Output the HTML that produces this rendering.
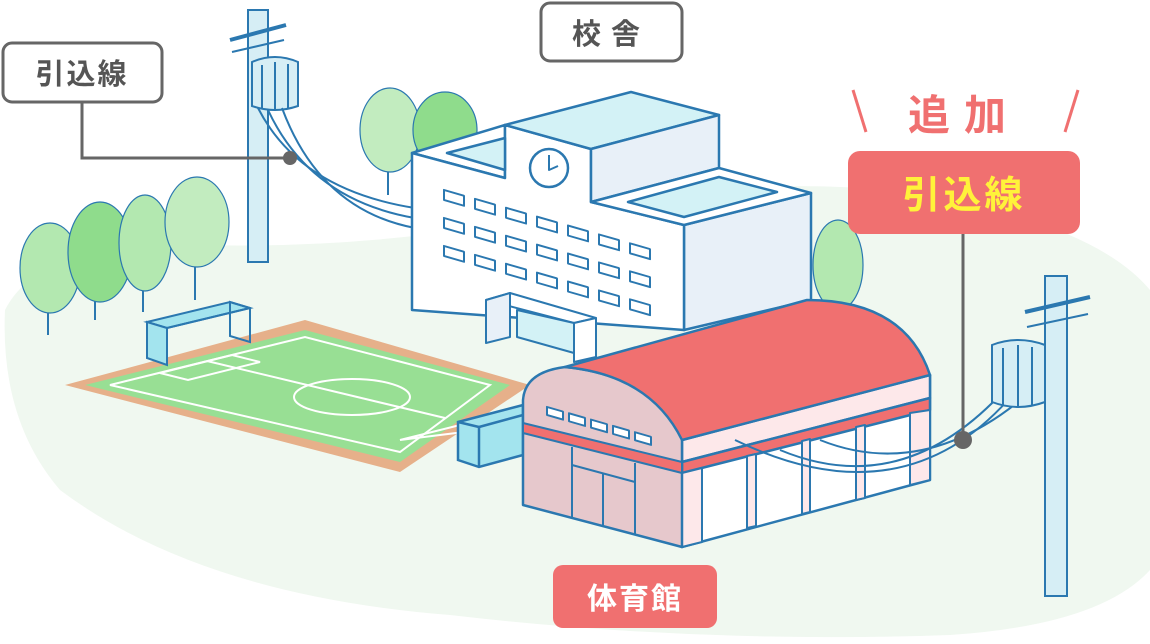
<!DOCTYPE html>
<html><head><meta charset="utf-8"><style>
html,body{margin:0;padding:0;background:#fff;}
svg{display:block;}
text{font-family:"Liberation Sans","Noto Sans CJK JP",sans-serif;font-weight:bold;}
</style></head><body>
<svg width="1150" height="644" viewBox="0 0 1150 644" xmlns="http://www.w3.org/2000/svg">
<!-- ground -->
<path d="M5,310 Q40,240 200,245 Q400,250 600,205 Q800,170 950,200 Q1100,230 1150,290 L1150,570 Q1100,625 950,635 Q700,644 450,615 Q200,595 60,490 Q0,420 5,310 Z" fill="#f0f8f0"/>
<!-- trees -->
<g stroke="#2b78b0" stroke-width="1.2">
<line x1="48" y1="300" x2="48" y2="335" stroke-width="2"/><line x1="95" y1="290" x2="95" y2="320" stroke-width="2"/><line x1="143" y1="280" x2="143" y2="312" stroke-width="2"/><line x1="195" y1="260" x2="195" y2="300" stroke-width="2"/>
<ellipse cx="50" cy="268" rx="30" ry="45" fill="#b3e8b0"/>
<ellipse cx="100" cy="252" rx="32" ry="50" fill="#8fdc8c"/>
<ellipse cx="145" cy="243" rx="26" ry="48" fill="#b3e8b0"/>
<ellipse cx="197" cy="222" rx="32" ry="45" fill="#c2ecbf"/>
<line x1="388" y1="160" x2="388" y2="195" stroke-width="2"/>
<ellipse cx="390" cy="130" rx="30" ry="42" fill="#c2ecbf"/>
<ellipse cx="445" cy="130" rx="32" ry="38" fill="#8fdc8c"/>
<ellipse cx="838" cy="265" rx="25" ry="45" fill="#b3e8b0"/>
</g>
<!-- soccer field -->
<polygon points="65,385 305,320 530,385 400,472" fill="#e6b08a"/>
<polygon points="85,385 305,330 510,385 400,462" fill="#98df94"/>
<g stroke="#fff" stroke-width="2" fill="none">
<polygon points="110,385 305,337 490,385 400,452"/>
<line x1="207" y1="361" x2="445" y2="418"/>
<ellipse cx="352" cy="397" rx="58" ry="18"/>
<polygon points="160,373 232,355 260,362 188,380"/>
<polygon points="400,440 460,425 480,430"/>
</g>
<!-- goal left -->
<g stroke="#2b78b0" stroke-width="2" fill="#a3e4ee">
<polygon points="147,322 230,302 250,308 167,328"/>
<polygon points="147,322 167,328 167,365 147,358"/>
<polygon points="230,302 250,308 250,342 230,336" fill="none"/>
<line x1="167" y1="328" x2="250" y2="308"/>
</g>
<!-- left pole -->
<g stroke="#2b78b0" stroke-width="2">
<rect x="248" y="10" width="20" height="252" fill="#d6eef5"/>
<line x1="230" y1="40" x2="286" y2="25" stroke-width="4"/>
<line x1="232" y1="52" x2="284" y2="40" stroke-width="2"/>
<path d="M252,62 Q275,52 298,62 L298,106 Q275,114 252,106 Z" fill="#d6eef5"/>
<line x1="262" y1="65" x2="262" y2="108"/><line x1="275" y1="62" x2="275" y2="110"/><line x1="288" y1="64" x2="288" y2="108"/>
<g fill="none" stroke-width="2">
<path d="M258,108 Q300,190 415,208"/>
<path d="M268,110 Q310,200 415,218"/>
<path d="M282,108 Q320,210 415,228"/>
</g>
</g>
<!-- school -->
<g stroke="#2b78b0" stroke-width="2.5" stroke-linejoin="round">
<polygon points="412,153 505,125 505,178" fill="#fff"/>
<polygon points="684,225 811,193 811,300 684,330" fill="#e8f0f8"/>
<polygon points="412,153 505,178 505,125 591,149 591,202 684,225 684,330 412,310" fill="#fff"/>
<polygon points="447,153 505,138 505,170" fill="#d3f2f6"/>
<polygon points="505,125 631,92 719,115 591,149" fill="#d3f2f6"/>
<polygon points="591,149 719,115 719,168 591,202" fill="#e8f0f8"/>
<polygon points="591,202 719,168 811,193 684,225" fill="#fff"/>
<polygon points="628,202 719,177 777,192 684,217" fill="#d3f2f6"/>
<circle cx="549" cy="168" r="19" fill="#fff"/>
<polyline points="549,155 549,170 558,166" fill="none" stroke-width="2"/>
<g fill="#fff" stroke-width="2">
<g transform="translate(444,190) skewY(16)">
<rect x="0" y="0" width="20" height="10"/><rect x="31" y="0" width="20" height="10"/><rect x="62" y="0" width="20" height="10"/><rect x="93" y="0" width="20" height="10"/><rect x="124" y="0" width="20" height="10"/><rect x="155" y="0" width="20" height="10"/><rect x="186" y="0" width="20" height="10"/>
<rect x="0" y="28" width="20" height="10"/><rect x="31" y="28" width="20" height="10"/><rect x="62" y="28" width="20" height="10"/><rect x="93" y="28" width="20" height="10"/><rect x="124" y="28" width="20" height="10"/><rect x="155" y="28" width="20" height="10"/><rect x="186" y="28" width="20" height="10"/>
<rect x="0" y="56" width="20" height="10"/><rect x="31" y="56" width="20" height="10"/><rect x="62" y="56" width="20" height="10"/><rect x="93" y="56" width="20" height="10"/><rect x="124" y="56" width="20" height="10"/><rect x="155" y="56" width="20" height="10"/><rect x="186" y="56" width="20" height="10"/>
</g></g>
<polygon points="486,300 510,293 596,318 574,323" fill="#fff" stroke-width="2"/>
<polygon points="486,300 510,293 510,337 486,343" fill="#e8f0f8" stroke-width="2"/>
<polygon points="517,310 574,323 574,353 517,337" fill="#d3f2f6" stroke-width="2"/>
<polygon points="574,323 596,318 596,357 574,362" fill="#fff" stroke-width="2"/>
</g>
<!-- blue box -->
<g stroke="#2b78b0" stroke-width="2.5" fill="#a3e4ee">
<polygon points="458,422 523,405 523,455 479,467 458,460"/>
<line x1="458" y1="422" x2="479" y2="427"/><line x1="479" y1="427" x2="523" y2="415"/><line x1="479" y1="427" x2="479" y2="467"/>
</g>
<!-- gym -->
<g stroke="#2b78b0" stroke-width="2.5" stroke-linejoin="round">
<polygon points="682,440 930,375 930,480 682,547" fill="#fff"/>
<polygon points="682,440 930,375 930,398 682,462" fill="#fde8ea"/>
<polygon points="682,462 930,398 930,410 682,473" fill="#f07070"/>
<g stroke-width="2" fill="#fde8ea">
<polygon points="682,473 702,468 702,542 682,547"/>
<polygon points="747,456 756,454 756,526 747,528"/>
<polygon points="802,441 810,439 810,512 802,514"/>
<polygon points="856,427 865,425 865,498 856,500"/>
<polygon points="910,413 930,410 930,480 910,485"/>
</g>
<path d="M523,505 L523,400 Q525,372 565,367 Q650,375 682,437 L682,547 Z" fill="#e6c8cc"/>
<path d="M523,423 L682,462 L682,473 L523,433 Z" fill="#f07070" stroke-width="2"/>
<path d="M565,367 L807,300 Q905,300 930,375 L682,440 Q650,375 565,367 Z" fill="#f07070"/>
<g fill="#fff" stroke-width="2">
<g transform="translate(547,407) skewY(16)">
<rect x="0" y="0" width="16" height="8"/><rect x="22" y="0" width="16" height="8"/><rect x="44" y="0" width="16" height="8"/><rect x="66" y="0" width="16" height="8"/><rect x="88" y="0" width="16" height="8"/>
</g></g>
<g fill="none" stroke-width="2">
<line x1="572" y1="447" x2="572" y2="517"/><line x1="635" y1="463" x2="635" y2="535"/>
<line x1="572" y1="465" x2="635" y2="482"/><line x1="603" y1="473" x2="603" y2="525"/>
</g>
</g>
<!-- right pole -->
<g stroke="#2b78b0" stroke-width="2">
<g fill="none">
<path d="M1000,395 Q900,500 780,450"/>
<path d="M1008,400 Q900,520 735,440"/>
<path d="M1018,402 Q920,480 820,440"/>
</g>
<rect x="1045" y="276" width="22" height="320" fill="#d6eef5"/>
<line x1="1025" y1="312" x2="1090" y2="297" stroke-width="4"/>
<line x1="1027" y1="327" x2="1088" y2="314"/>
<path d="M992,345 Q1018,335 1045,345 L1045,402 Q1018,412 992,402 Z" fill="#d6eef5"/>
<line x1="1003" y1="348" x2="1003" y2="405"/><line x1="1018" y1="345" x2="1018" y2="408"/><line x1="1032" y1="347" x2="1032" y2="406"/>
</g>
<!-- labels -->
<polyline points="82,103 82,158 290,158" fill="none" stroke="#666" stroke-width="3"/>
<circle cx="290" cy="158" r="7" fill="#666"/>
<rect x="3" y="43" width="159" height="59" rx="9" fill="#fff" stroke="#666" stroke-width="3"/>
<text x="82" y="84" font-size="29" fill="#555" text-anchor="middle" letter-spacing="2">引込線</text>
<rect x="541" y="3" width="141" height="58" rx="9" fill="#fff" stroke="#666" stroke-width="3"/>
<text x="611" y="44" font-size="29" fill="#555" text-anchor="middle" letter-spacing="10">校舎</text>
<line x1="963" y1="234" x2="963" y2="440" stroke="#666" stroke-width="3"/>
<circle cx="963" cy="440" r="9" fill="#666"/>
<line x1="853" y1="90" x2="866" y2="132" stroke="#f07070" stroke-width="3"/>
<line x1="1078" y1="90" x2="1065" y2="132" stroke="#f07070" stroke-width="3"/>
<text x="964" y="130" font-size="42" fill="#f07070" text-anchor="middle" letter-spacing="14">追加</text>
<rect x="848" y="151" width="232" height="83" rx="12" fill="#f07070"/>
<text x="964" y="208" font-size="38" fill="#fff23a" text-anchor="middle" letter-spacing="3">引込線</text>
<rect x="553" y="565" width="164" height="63" rx="10" fill="#f07070"/>
<text x="635" y="609" font-size="30" fill="#fff" text-anchor="middle" letter-spacing="2">体育館</text>
</svg>
</body></html>
